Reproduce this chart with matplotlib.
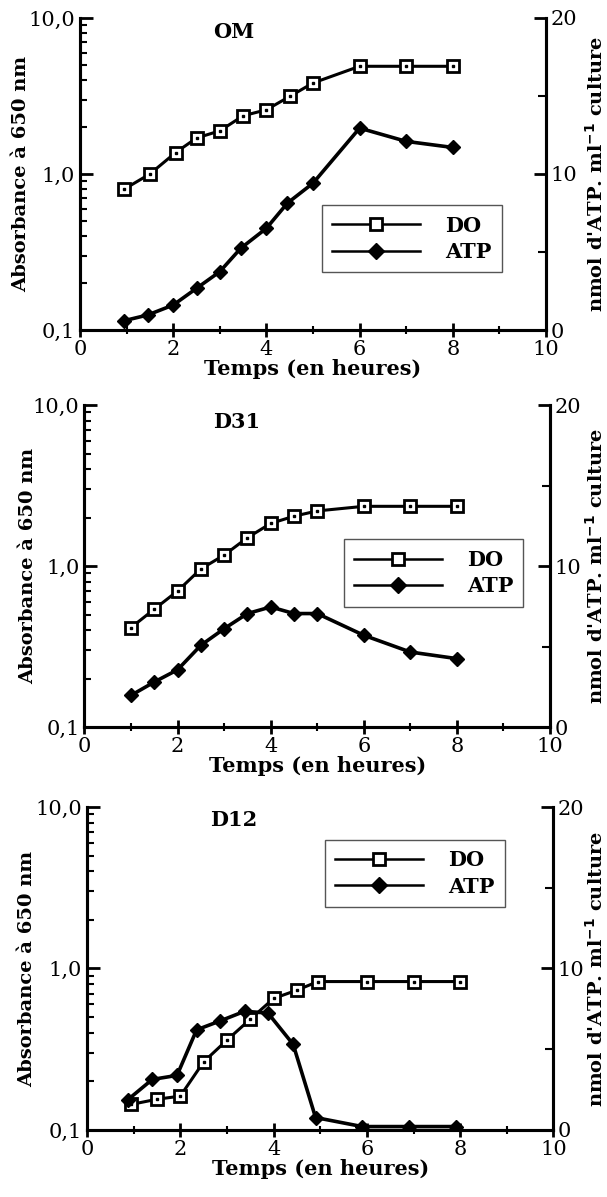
import matplotlib
matplotlib.use('Agg')
import matplotlib.pyplot as plt
import numpy as np
from matplotlib.lines import Line2D

plt.rcParams['font.family'] = ['DejaVu Serif']

# OM
om_t_do = [0.95, 1.5, 2.05, 2.5, 3.0, 3.5, 4.0, 4.5, 5.0, 6.0, 7.0, 8.0]
om_do = [0.80, 1.0, 1.37, 1.70, 1.89, 2.36, 2.58, 3.14, 3.83, 4.9, 4.9, 4.9]
om_t_atp = [0.95, 1.45, 2.0, 2.5, 3.0, 3.45, 4.0, 4.45, 5.0, 6.0, 7.0, 8.0]
om_atp = [0.6, 0.96, 1.6, 2.67, 3.74, 5.24, 6.52, 8.13, 9.41, 12.94, 12.09, 11.7]

# D31
d31_t_do = [1.0, 1.5, 2.0, 2.5, 3.0, 3.5, 4.0, 4.5, 5.0, 6.0, 7.0, 8.0]
d31_do = [0.415, 0.54, 0.70, 0.96, 1.17, 1.50, 1.84, 2.04, 2.20, 2.35, 2.35, 2.35]
d31_t_atp = [1.0, 1.5, 2.0, 2.5, 3.0, 3.5, 4.0, 4.5, 5.0, 6.0, 7.0, 8.0]
d31_atp = [1.97, 2.8, 3.56, 5.08, 6.11, 7.05, 7.46, 7.05, 7.05, 5.70, 4.66, 4.25]

# D12
d12_t_do = [0.95, 1.5, 2.0, 2.5, 3.0, 3.5, 4.0, 4.5, 4.95, 6.0, 7.0, 8.0]
d12_do = [0.144, 0.155, 0.162, 0.264, 0.36, 0.485, 0.652, 0.734, 0.83, 0.83, 0.83, 0.83]
d12_t_atp = [0.87, 1.4, 1.93, 2.35, 2.86, 3.38, 3.88, 4.42, 4.9, 5.9, 6.9, 7.9]
d12_atp = [1.86, 3.13, 3.38, 6.2, 6.76, 7.35, 7.24, 5.30, 0.77, 0.21, 0.21, 0.21]

panels = [
    ('OM', om_t_do, om_do, om_t_atp, om_atp),
    ('D31', d31_t_do, d31_do, d31_t_atp, d31_atp),
    ('D12', d12_t_do, d12_do, d12_t_atp, d12_atp),
]

# axes rectangles (figure fraction) and legend / title placement
rects = [
    [0.1318, 0.7243, 0.7677, 0.2607],
    [0.1392, 0.3926, 0.7669, 0.2690],
    [0.1433, 0.0560, 0.7685, 0.2698],
]
legend_pos = [(0.517, 0.192, 0.39, 0.20), (0.59, 0.382, 0.32, 0.193), (0.508, 0.697, 0.39, 0.195)]
title_pos = [(0.33, 0.955), (0.326, 0.947), (0.315, 0.96)]
ylab_x = [0.035, 0.046, 0.045]

fig = plt.figure(figsize=(6.07, 11.97), dpi=100)

for i, (name, t_do, do, t_atp, atp) in enumerate(panels):
    ax = fig.add_axes(rects[i])
    ax2 = ax.twinx()

    ax.set_yscale('log')
    ax.set_ylim(0.1, 10)
    ax.set_xlim(0, 10)
    ax2.set_ylim(0, 20)

    ax.plot(t_do, do, '-', color='black', lw=2.2, marker='s', ms=9,
            mfc='white', mec='black', mew=2, zorder=3)
    ax.plot(t_do, do, ls='none', marker='s', ms=2, color='black', zorder=4)
    ax2.plot(t_atp, atp, '-', color='black', lw=2.6, marker='D', ms=7.5,
             mfc='black', mec='black', zorder=3)

    ax.set_yticks([0.1, 1, 10])
    ax.set_yticklabels(['0,1', '1,0', '10,0'])
    ax.set_yticks([k * 0.1 for k in range(2, 10)] + list(range(2, 10)), minor=True)
    ax.yaxis.set_minor_formatter(matplotlib.ticker.NullFormatter())
    ax.set_xticks(range(0, 11, 2))
    ax.set_xticks(range(1, 10, 2), minor=True)
    ax2.set_yticks([0, 10, 20])
    ax2.set_yticks([5, 15], minor=True)

    ax.tick_params(axis='y', which='major', direction='in', length=9, width=2, labelsize=15)
    ax.tick_params(axis='y', which='minor', direction='in', length=5, width=1.5)
    ax.tick_params(axis='x', which='major', direction='inout', length=10, width=2, labelsize=15, pad=2)
    ax.tick_params(axis='x', which='minor', direction='inout', length=6, width=1.5)
    ax2.tick_params(axis='y', which='major', direction='in', length=9, width=2, labelsize=15, pad=3)
    ax2.tick_params(axis='y', which='minor', direction='in', length=6, width=1.5)

    for a in (ax, ax2):
        a.spines['top'].set_visible(False)
        for s in ('left', 'right', 'bottom'):
            a.spines[s].set_linewidth(2.2)

    ax.set_xlabel('Temps (en heures)', fontsize=15, fontweight='bold', labelpad=0)

    l, b, w, h = rects[i]
    fig.text(ylab_x[i], b + h / 2, 'Absorbance à 650 nm', rotation=90,
             ha='center', va='center', fontsize=14, fontweight='bold')
    fig.text(0.982, b + h / 2, "nmol d'ATP. ml$^{\\mathbf{-1}}$ culture", rotation=90,
             ha='center', va='center', fontsize=14, fontweight='bold')

    ax.text(title_pos[i][0], title_pos[i][1], name, transform=ax.transAxes,
            ha='center', va='center', fontsize=15, fontweight='bold')

    handles = [
        Line2D([], [], color='black', lw=1.8, marker='s', ms=9, mfc='white', mew=2),
        Line2D([], [], color='black', lw=1.8, marker='D', ms=8, mfc='black'),
    ]
    leg = ax2.legend(handles, ['DO', 'ATP'], loc='center',
                     bbox_to_anchor=legend_pos[i], fancybox=False, framealpha=1,
                     edgecolor='#555555', handlelength=4.2, handletextpad=1.2,
                     prop={'weight': 'bold', 'size': 15}, borderpad=0.5, labelspacing=0.3)
    leg.get_frame().set_linewidth(1.0)

fig.savefig('out.png', dpi=100)
